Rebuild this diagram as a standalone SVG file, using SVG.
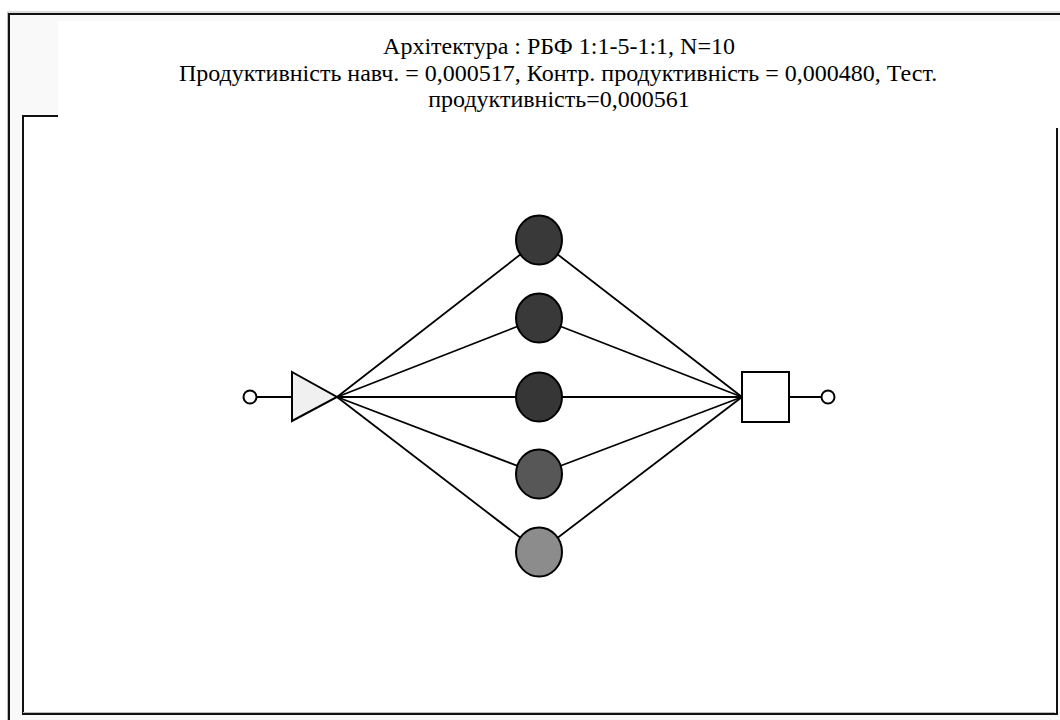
<svg xmlns="http://www.w3.org/2000/svg" width="1060" height="720" viewBox="0 0 1060 720">
  <style>
    .frame { fill: none; stroke: #111; stroke-width: 2; }
    .shade { fill: none; stroke: #bbb; stroke-width: 1; }
    .title { font-size: 24px; fill: #000; text-anchor: middle; }
    .wire { stroke: #000; stroke-width: 1.8; fill: none; }
    .node { stroke: #000; stroke-width: 2; }
  </style>

  <!-- page background and frames -->
  <rect x="0" y="0" width="1060" height="720" fill="#fff"/>
  <rect x="8" y="13" width="1052" height="707" fill="#f9f9f9"/>
  <rect x="58" y="21" width="1002" height="107" fill="#fff"/>
  <rect x="22" y="115" width="1035" height="599" fill="#fff"/>

  <g id="outer-frame">
    <polyline class="shade" points="7.5,720 7.5,12 1060,12"/>
    <polyline class="frame" points="9,720 9,14 1060,14"/>
  </g>
  <g id="plot-frame">
    <polyline class="frame" points="58,116 23,116 23,714 1057,714 1057,128"/>
    <line class="shade" x1="23" y1="712.5" x2="1055" y2="712.5"/>
  </g>

  <!-- title -->
  <g id="title" font-family="'Liberation Serif', 'Times New Roman', 'DejaVu Serif', serif">
    <text class="title" x="559" y="54">Архітектура : РБФ 1:1-5-1:1, N=10</text>
    <text class="title" x="558" y="81">Продуктивність навч. = 0,000517, Контр. продуктивність = 0,000480, Тест.</text>
    <text class="title" x="559" y="107">продуктивність=0,000561</text>
  </g>

  <!-- connectors -->
  <g id="connectors">
    <line class="wire" x1="256" y1="397" x2="291" y2="397"/>
    <line class="wire" x1="337" y1="397" x2="539" y2="240"/>
    <line class="wire" x1="337" y1="397" x2="539" y2="318"/>
    <line class="wire" x1="337" y1="397" x2="539" y2="397"/>
    <line class="wire" x1="337" y1="397" x2="539" y2="474"/>
    <line class="wire" x1="337" y1="397" x2="539" y2="552"/>
    <line class="wire" x1="539" y1="240" x2="742" y2="397"/>
    <line class="wire" x1="539" y1="318" x2="742" y2="397"/>
    <line class="wire" x1="539" y1="397" x2="742" y2="397"/>
    <line class="wire" x1="539" y1="474" x2="742" y2="397"/>
    <line class="wire" x1="539" y1="552" x2="742" y2="397"/>
    <line class="wire" x1="789" y1="397" x2="822" y2="397"/>
  </g>

  <!-- input -->
  <g id="input-terminal">
    <circle class="node" cx="250" cy="397" r="6.5" fill="#fff"/>
  </g>
  <g id="input-layer">
    <polygon class="node" points="292,372 337,397 292,421" fill="#f0f0f0"/>
  </g>

  <!-- hidden RBF units -->
  <g id="hidden-1"><ellipse class="node" cx="539" cy="240" rx="23" ry="24.5" fill="#393939"/></g>
  <g id="hidden-2"><ellipse class="node" cx="539" cy="318" rx="23" ry="24.5" fill="#393939"/></g>
  <g id="hidden-3"><ellipse class="node" cx="539" cy="397" rx="23" ry="24.5" fill="#363636"/></g>
  <g id="hidden-4"><ellipse class="node" cx="539" cy="474" rx="23" ry="24.5" fill="#575757"/></g>
  <g id="hidden-5"><ellipse class="node" cx="539" cy="552" rx="23" ry="24.5" fill="#8c8c8c"/></g>

  <!-- output -->
  <g id="output-layer">
    <rect class="node" x="742" y="372" width="47" height="50" fill="#fff"/>
  </g>
  <g id="output-terminal">
    <circle class="node" cx="828" cy="397" r="6.5" fill="#fff"/>
  </g>
</svg>
